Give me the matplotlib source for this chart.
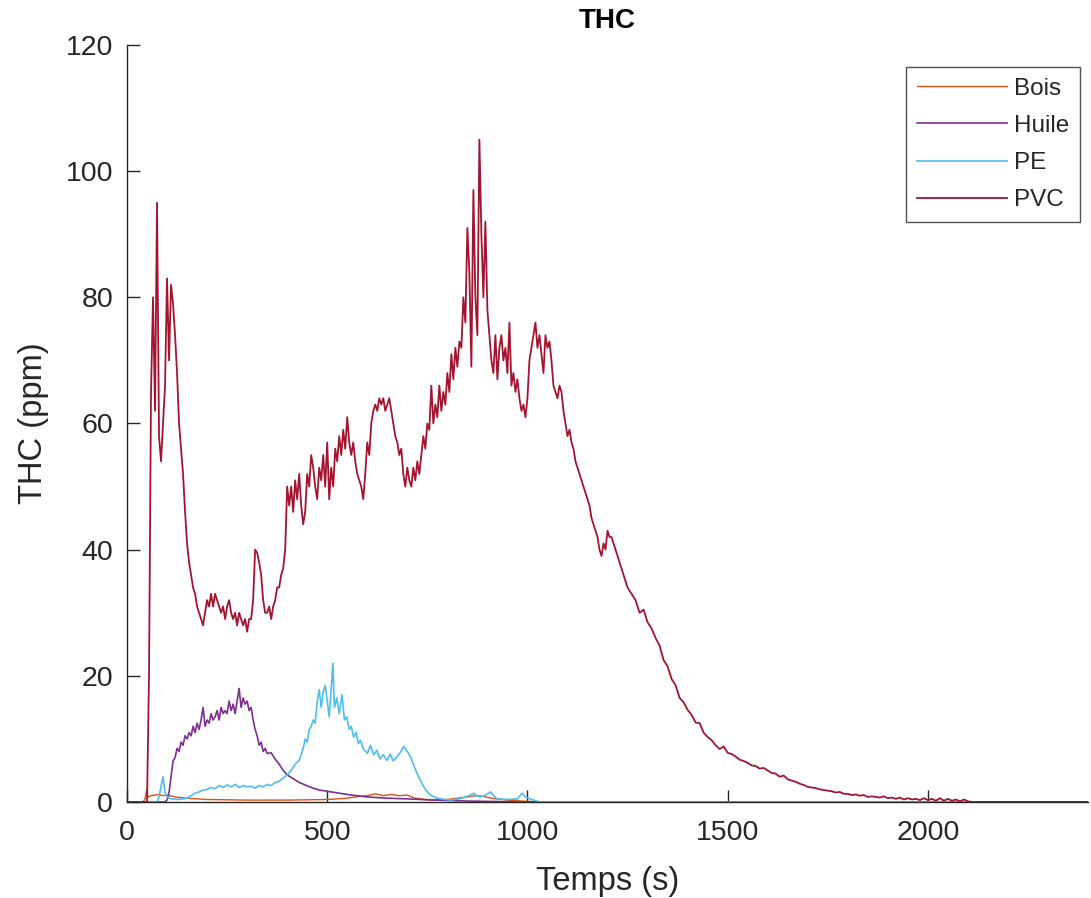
import numpy as np
import matplotlib
matplotlib.use("Agg")
import matplotlib.pyplot as plt

plt.rcParams['font.family'] = ['Liberation Sans', 'DejaVu Sans']

series_names = ['Bois', 'Huile', 'PE', 'PVC']
series_colors = ['#D95319', '#7E2F8E', '#4DBEEE', '#A2142F']

# Bois (ppm)
t_bois = [0, 40, 45, 49, 53, 60, 70, 80, 90, 100, 120, 150, 200, 300, 400, 500, 550,
          580, 600, 620, 640, 660, 680, 700, 720, 760, 800, 850, 870, 890, 910, 950,
          1000, 1050, 2400]
y_bois = [0, 0, 0.5, 1.9, 0.8, 1.0, 1.1, 1.2, 1.0, 1.1, 0.8, 0.6, 0.4, 0.3, 0.3, 0.4, 0.6,
          0.9, 1.0, 1.3, 1.0, 1.2, 1.0, 1.1, 0.6, 0.3, 0.4, 0.8, 1.0, 0.9, 0.6, 0.3,
          0.1, 0, 0]

# Huile (ppm)
t_huile = [0, 95, 100, 105, 110, 115, 120, 125, 130, 135, 140, 145, 150, 155, 160, 165,
           170, 175, 180, 185, 190, 195, 200, 205, 210, 215, 220, 225, 230, 235, 240, 245,
           250, 255, 260, 265, 270, 275, 280, 285, 290, 295, 300, 305, 310, 315, 320, 325,
           330, 335, 340, 345, 350, 360, 370, 380, 390, 400, 415, 430, 445, 460, 480, 500,
           530, 560, 600, 650, 700, 750, 800, 850, 900, 1000, 2400]
y_huile = [0, 0, 0.3, 1.5, 4, 6.5, 7, 8.5, 8, 9.5, 9, 10.5, 10, 11, 10.5, 12,
           11, 12.5, 11.5, 13, 15, 12, 13, 12.5, 14, 13, 13.5, 14.5, 13, 15, 14, 14.5,
           14, 16, 14.5, 15.5, 14, 16, 18, 15, 16.5, 15.5, 16, 14.5, 15, 13, 11.5, 10.5,
           9, 9.5, 8, 8.5, 7.7, 7.8, 6.8, 6, 5, 4.3, 3.7, 3.1, 2.7, 2.3, 1.9, 1.7,
           1.4, 1.1, 0.8, 0.6, 0.5, 0.35, 0.25, 0.15, 0.1, 0, 0]

# PE (ppm)
t_pe = [0, 75, 80, 85, 90, 95, 100, 110, 130, 150, 160, 170, 180, 190, 200, 210, 220,
        230, 240, 250, 260, 270, 280, 290, 300, 310, 320, 330, 340, 350, 360, 370, 380,
        390, 400, 410, 420, 430, 440, 445, 450, 455, 460, 465, 470, 475, 480, 485, 490,
        495, 500, 505, 510, 514, 518, 524, 530, 537, 543, 549, 555, 560, 566, 572, 578,
        583, 590, 600, 608, 616, 624, 632, 640, 649, 657, 665, 674, 682, 691, 700, 708,
        716, 724, 732, 741, 750, 758, 770, 783, 808, 830, 850, 866, 875, 883, 895, 908,
        916, 924, 950, 975, 987, 995, 1010, 1032, 2400]
y_pe = [0, 0, 0.8, 2.5, 4, 1.5, 0.8, 0.5, 0.4, 0.6, 1.0, 1.4, 1.6, 1.9, 2.0, 2.3, 2.1,
        2.6, 2.3, 2.7, 2.4, 2.8, 2.3, 2.6, 2.4, 2.5, 2.2, 2.6, 2.4, 2.8, 2.6, 3.1, 3.3,
        3.8, 4.3, 5.0, 6.0, 6.6, 8.5, 10, 9.5, 11.5, 12, 13, 12.5, 16, 17.8, 15, 17.5,
        18.5, 16, 13.5, 18, 22, 15, 16.5, 14, 17, 13, 13.5, 11.5, 12, 10.3, 11, 9.3,
        9.8, 8.5, 7.7, 9, 7.5, 8.2, 6.8, 7.5, 6.6, 7.6, 6.5, 7.2, 7.8, 8.8, 8, 7.2,
        5.8, 4.6, 3.5, 2.4, 1.6, 1.1, 0.7, 0.5, 0.3, 0.5, 0.9, 1.4, 0.9, 0.8, 1.1, 1.6,
        1.0, 0.5, 0.4, 0.5, 1.4, 0.8, 0.4, 0, 0]

# PVC (ppm), every 5 s up to 1250 s
t_pvc_a = np.arange(0, 1255, 5)
y_pvc_a = [0, 0, 0, 0, 0, 0, 0, 0, 0, 0,
           0, 20, 65, 80, 62, 95, 58, 54, 60, 66,
           83, 70, 82, 79, 74, 68, 60, 56, 52, 46,
           41, 38, 36, 34, 33, 31, 30, 29, 28, 30,
           32, 31, 33, 31, 33, 32, 31, 30, 31, 29,
           31, 32, 30, 29, 30, 28, 30, 29, 28, 29,
           27, 29, 29, 32, 40, 39.5, 38, 36, 32, 30,
           30, 31, 29, 31, 32, 34, 34, 36, 37, 40,
           50, 47, 50, 46, 51, 48, 52, 47, 44, 46,
           52, 50, 55, 53, 50, 48, 53, 51, 55, 50,
           57, 48, 53, 50, 56, 54, 58, 55, 59, 56,
           61, 57, 55, 57, 54, 52, 51, 50, 48, 52,
           57, 55, 60, 62, 63, 62, 64, 63, 64, 62,
           63, 64, 62, 60, 58, 57, 55, 56, 52, 50,
           53, 51, 50, 53, 51, 54, 52, 55, 58, 56,
           60, 59, 66, 60, 63, 61, 66, 62, 65, 63,
           68, 65, 71, 67, 72, 69, 73, 72, 80, 76,
           91, 84, 69, 97, 80, 74, 105, 90, 80, 92,
           78, 74, 70, 68, 74, 67, 72, 74, 70, 72,
           68, 76, 66, 68, 65, 67, 64, 62, 63, 61,
           64, 70, 72, 74, 76, 72, 74, 71, 68, 74,
           72, 73, 70, 66, 65, 64, 66, 65, 62, 60,
           58, 59, 57, 56, 54, 53, 52, 51, 50, 49,
           48, 47, 45, 44, 43, 42, 40, 39, 41, 40,
           43, 42, 42, 41, 40, 39, 38, 37, 36, 35,
           34]
# PVC tail, every 10 s
t_pvc_b = np.arange(1260, 2120, 10)
y_pvc_b = [33, 32, 30, 30.5, 28.5, 27.5, 26, 24.8, 22.5, 21.5,
           19.5, 18.5, 16.5, 15.8, 14.6, 13.8, 12.6, 12.5, 11, 10.3,
           9.8, 9, 8.4, 8.8, 7.8, 7.6, 7.2, 6.7, 6.5, 6.2,
           5.8, 5.7, 5.3, 5.4, 5.0, 4.6, 4.5, 4.0, 4.2, 3.6,
           3.4, 3.2, 2.9, 2.7, 2.4, 2.3, 2.2, 2.0, 1.9, 1.8,
           1.7, 1.5, 1.6, 1.3, 1.3, 1.1, 1.2, 1.0, 1.1, 0.8,
           0.9, 0.8, 0.7, 0.9, 0.6, 0.7, 0.5, 0.7, 0.4, 0.6,
           0.4, 0.5, 0.3, 0.6, 0.3, 0.5, 0.2, 0.6, 0.2, 0.5,
           0.2, 0.4, 0.1, 0.4, 0.1, 0.0]
t_pvc = np.concatenate([t_pvc_a, t_pvc_b, [2400]])
y_pvc = np.concatenate([y_pvc_a, y_pvc_b, [0]])

x_ticks = [0, 500, 1000, 1500, 2000]
y_ticks = [0, 20, 40, 60, 80, 100, 120]

txt = '#262626'

fig = plt.figure(figsize=(10.91, 8.98), dpi=100)
ax = fig.add_axes([0.1164, 0.1069, 0.8809, 0.8430])

data = [(t_bois, y_bois), (t_huile, y_huile), (t_pe, y_pe), (t_pvc, y_pvc)]
widths = [1.0, 1.2, 1.2, 1.3]
for (t, y), name, col, lw in zip(data, series_names, series_colors, widths):
    ax.plot(t, y, color=col, linewidth=lw, label=name)

ax.set_xlim(0, 2400)
ax.set_ylim(0, 120)
ax.set_xticks(x_ticks)
ax.set_yticks(y_ticks)
ax.spines['top'].set_visible(False)
ax.spines['right'].set_visible(False)
for s in ['left', 'bottom']:
    ax.spines[s].set_color(txt)
    ax.spines[s].set_linewidth(1.0)
ax.tick_params(direction='in', length=9, width=1.0, colors=txt, labelsize=20.5)
ax.tick_params(axis='x', pad=13)
ax.tick_params(axis='y', pad=10)

ax.set_xlabel('Temps (s)', fontsize=23.5, color=txt, labelpad=14)
ax.set_ylabel('THC (ppm)', fontsize=23.5, color=txt, labelpad=12)
ax.set_title('THC', fontsize=20, fontweight='bold', color='black', pad=12)

leg = ax.legend(loc='upper right', bbox_to_anchor=(0.9917, 0.971), borderaxespad=0,
                fontsize=17.5, frameon=True, fancybox=False, handlelength=3.7,
                handletextpad=0.3, labelspacing=0.62, borderpad=0.45)
leg.get_frame().set_edgecolor(txt)
leg.get_frame().set_linewidth(1.0)
for t in leg.get_texts():
    t.set_color(txt)

fig.savefig('out.png', dpi=100)
